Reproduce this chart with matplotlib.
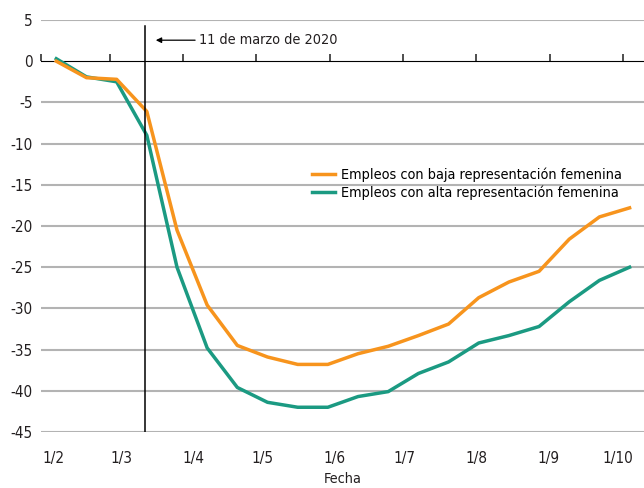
import pandas as pd
import matplotlib
matplotlib.use("Agg")
import matplotlib.pyplot as plt
import matplotlib.dates as mdates
from matplotlib.ticker import NullFormatter

plt.rcParams['font.family'] = ['DejaVu Sans']
plt.rcParams['font.stretch'] = 'condensed'
plt.rcParams['axes.unicode_minus'] = False

fechas = ["2020-02-02", "2020-02-15", "2020-02-28", "2020-03-12", "2020-03-25",
          "2020-04-07", "2020-04-20", "2020-05-03", "2020-05-16", "2020-05-29",
          "2020-06-11", "2020-06-24", "2020-07-07", "2020-07-20", "2020-08-02",
          "2020-08-15", "2020-08-28", "2020-09-10", "2020-09-23", "2020-10-06"]
baja = [0, -2.0, -2.2, -6.1, -20.5, -29.6, -34.5, -35.9, -36.8, -36.8,
        -35.5, -34.6, -33.3, -31.9, -28.7, -26.8, -25.5, -21.6, -18.9, -17.8]
alta = [0.3, -1.9, -2.5, -9.0, -25.0, -34.8, -39.6, -41.4, -42.0, -42.0,
        -40.7, -40.1, -37.9, -36.5, -34.2, -33.3, -32.2, -29.2, -26.6, -25.0]

etiquetas_fecha = ["2020-02-01", "2020-03-01", "2020-04-01", "2020-05-01", "2020-06-01",
                   "2020-07-01", "2020-08-01", "2020-09-01", "2020-10-01"]
etiquetas = ["1/2", "1/3", "1/4", "1/5", "1/6", "1/7", "1/8", "1/9", "1/10"]
# tick marks on the zero line (Excel puts them slightly off the labels)
marcas = ["2020-01-26 10:00", "2020-02-25 00:00", "2020-03-27 14:00", "2020-04-28 00:00",
          "2020-05-30 00:00", "2020-06-30 10:00", "2020-08-01 00:00", "2020-09-01 16:00",
          "2020-10-03 05:00"]
yticks = [5, 0, -5, -10, -15, -20, -25, -30, -35, -40, -45]

naranja = "#F7941D"
verde = "#1B9A82"
texto = "#231f20"
fs = 11
fs_small = 10.4

x = pd.to_datetime(fechas)

fig = plt.figure(figsize=(6.44, 4.88), dpi=100)
ax = fig.add_axes([0.0637, 0.1148, 0.9363, 0.8442])

for y in yticks:
    if y != 0:
        ax.axhline(y, color="#b3b3b3", lw=1.5, zorder=1)

ax.plot(x, alta, color=verde, lw=2.5, label="Empleos con alta representación femenina", zorder=3)
ax.plot(x, baja, color=naranja, lw=2.5, label="Empleos con baja representación femenina", zorder=4)

ax.set_ylim(-45, 5)
ax.set_xlim(mdates.date2num(pd.Timestamp("2020-01-26 10:00")),
            mdates.date2num(pd.Timestamp("2020-10-12 05:00")))
ax.set_yticks(yticks)
ax.set_xticks(pd.to_datetime(etiquetas_fecha))
ax.set_xticklabels(etiquetas)
ax.tick_params(axis="both", length=0, labelsize=fs, colors=texto)
ax.tick_params(axis="x", pad=14)
ax.tick_params(axis="y", pad=6)
for s in ax.spines.values():
    s.set_visible(False)

# zero line with tick marks
eje0 = ax.secondary_xaxis(0.9)
eje0.spines["bottom"].set_color("#404040")
eje0.spines["bottom"].set_linewidth(1.3)
eje0.set_xticks(pd.to_datetime(marcas))
eje0.xaxis.set_major_formatter(NullFormatter())
eje0.tick_params(axis="x", direction="out", length=5, width=1.3, color="#404040")
eje0.set_zorder(2)

# 11 de marzo
marzo = mdates.date2num(pd.Timestamp("2020-03-11"))
ax.plot([marzo, marzo], [-45, 4.3], color="black", lw=1.1, zorder=5)
ax.annotate("", xy=(mdates.date2num(pd.Timestamp("2020-03-14 16:00")), 2.55),
            xytext=(mdates.date2num(pd.Timestamp("2020-04-03")), 2.55),
            arrowprops=dict(arrowstyle="-|>", color="black", lw=0.9, mutation_scale=8))
ax.text(mdates.date2num(pd.Timestamp("2020-04-03 12:00")), 2.55, "11 de marzo de 2020",
        fontsize=fs_small, va="center", ha="left", color=texto)

handles, labels = ax.get_legend_handles_labels()
ax.legend(handles[::-1], labels[::-1], loc="upper left", bbox_to_anchor=(0.44, 0.657),
          frameon=False, fontsize=fs_small, handlelength=1.6, handletextpad=0.4,
          labelspacing=0.3, borderaxespad=0)

ax.set_xlabel("Fecha", fontsize=fs_small, color=texto, labelpad=4)

fig.savefig("out.png", dpi=100)
